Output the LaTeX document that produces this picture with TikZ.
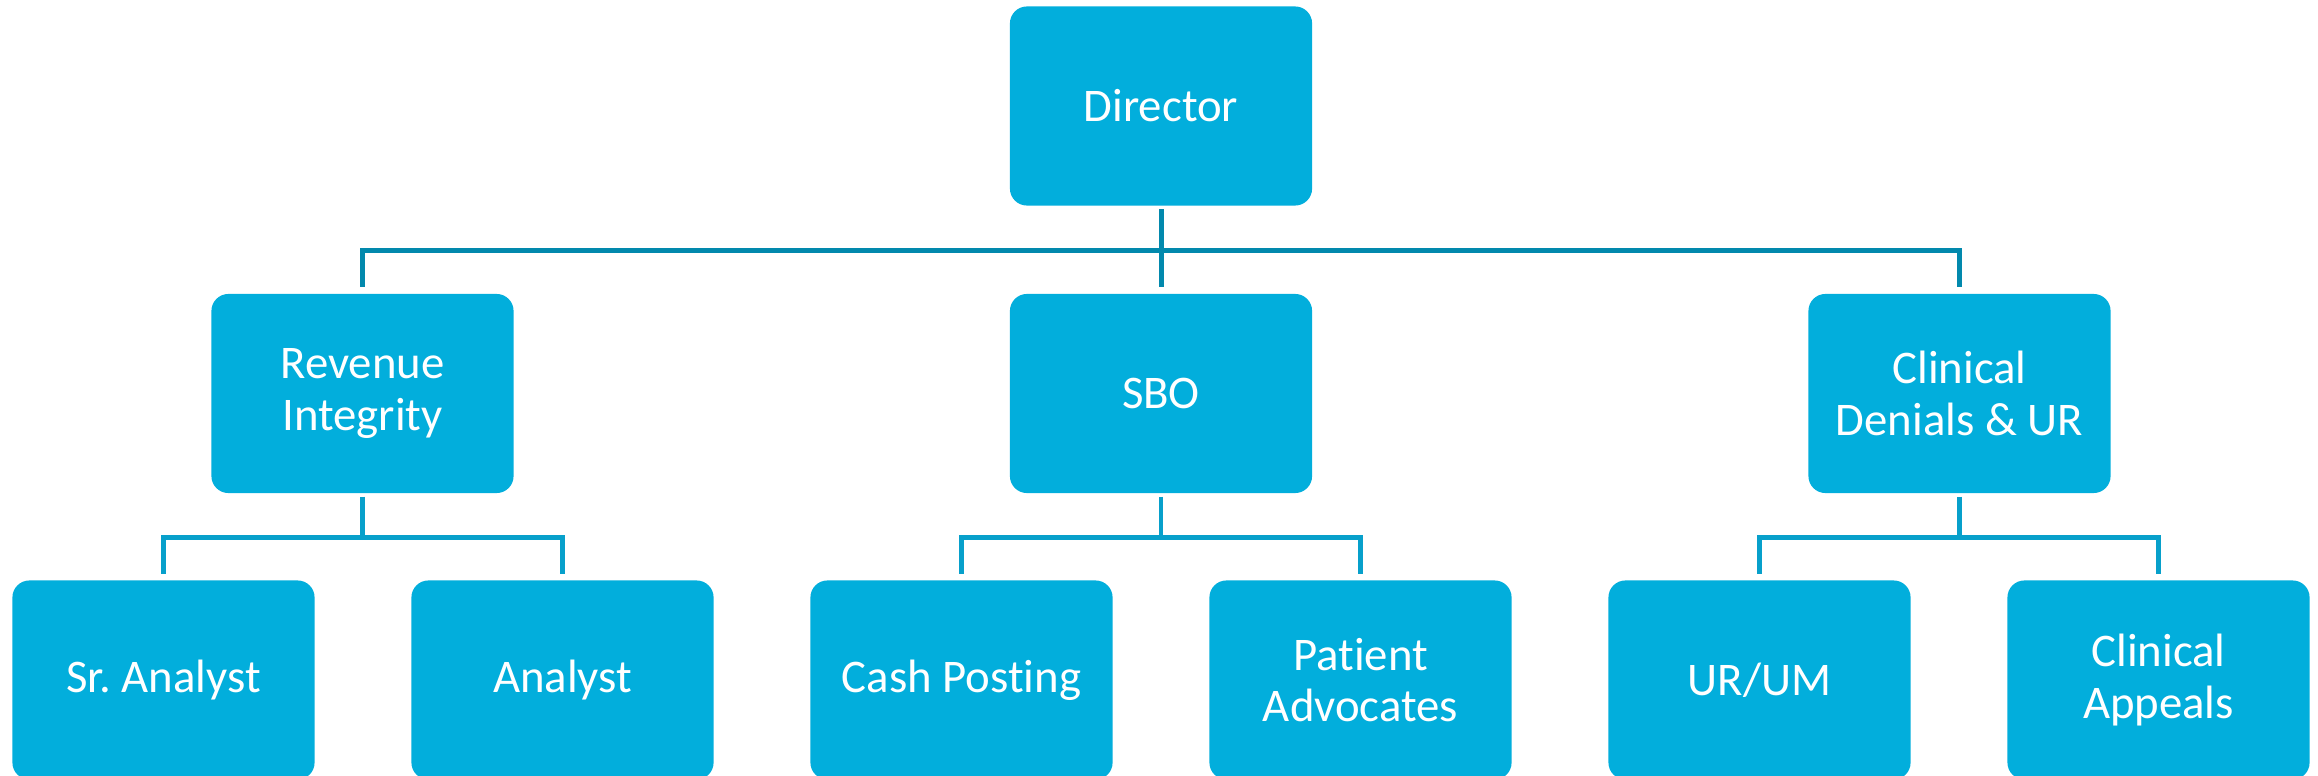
\documentclass[tikz,border=0pt]{standalone}
\usepackage{fontspec}
\setmainfont{Carlito}[Ligatures=NoCommon]
\usepackage{tikz}
\usetikzlibrary{positioning,calc}
\definecolor{boxblue}{HTML}{02AEDC}
\definecolor{linedark}{HTML}{0289AD}
\definecolor{linelight}{HTML}{07A0CB}
\frenchspacing

\begin{document}
\begin{tikzpicture}[x=0.01cm,y=-0.01cm,
	font=\fontsize{13.3}{14.6}\selectfont,
	every text node part/.style={align=center},
	unitbox/.style={fill=boxblue,text=white,rounded corners=0.17cm,minimum width=3.02cm,minimum height=1.99cm,inner sep=0pt},
	topbus/.style={draw=linedark,line width=0.05cm,shorten <=0.03cm,shorten >=0.06cm},
	lowbus/.style={draw=linelight,line width=0.048cm,shorten <=0.03cm,shorten >=0.06cm}]
	\useasboundingbox (0,0) rectangle (2318,776);

	\node (dir) at (1161,106) [unitbox] {Director};

	\node (revint) at (362.5,393.5) [unitbox] {Revenue\\Integrity};
	\node (sbo) at (1161,393.5) [unitbox] {SBO};
	\node (clin) at (1959.5,393.5) [unitbox] {Clinical\\Denials \& UR};

	\node (sranl) at (163.5,680) [unitbox] {Sr.\ Analyst};
	\node (anl) at (562.5,680) [unitbox] {Analyst};
	\node (cash) at (961.5,680) [unitbox] {Cash Posting};
	\node (patadv) at (1360.5,680) [unitbox] {Patient\\Advocates};
	\node (urum) at (1759.5,680) [unitbox] {UR/UM};
	\node (clinapp) at (2158.5,680) [unitbox] {Clinical\\Appeals};

	\draw[topbus] (dir.south) -- ++(0,44.5) -| (revint.north);
	\draw[topbus] (dir.south) -- ++(0,44.5) -| (sbo.north);
	\draw[topbus] (dir.south) -- ++(0,44.5) -| (clin.north);

	\draw[lowbus] (revint.south) -- ++(0,43.5) -| (sranl.north);
	\draw[lowbus] (revint.south) -- ++(0,43.5) -| (anl.north);
	\draw[lowbus] (sbo.south) -- ++(0,43.5) -| (cash.north);
	\draw[lowbus] (sbo.south) -- ++(0,43.5) -| (patadv.north);
	\draw[lowbus] (clin.south) -- ++(0,43.5) -| (urum.north);
	\draw[lowbus] (clin.south) -- ++(0,43.5) -| (clinapp.north);
\end{tikzpicture}
\end{document}
